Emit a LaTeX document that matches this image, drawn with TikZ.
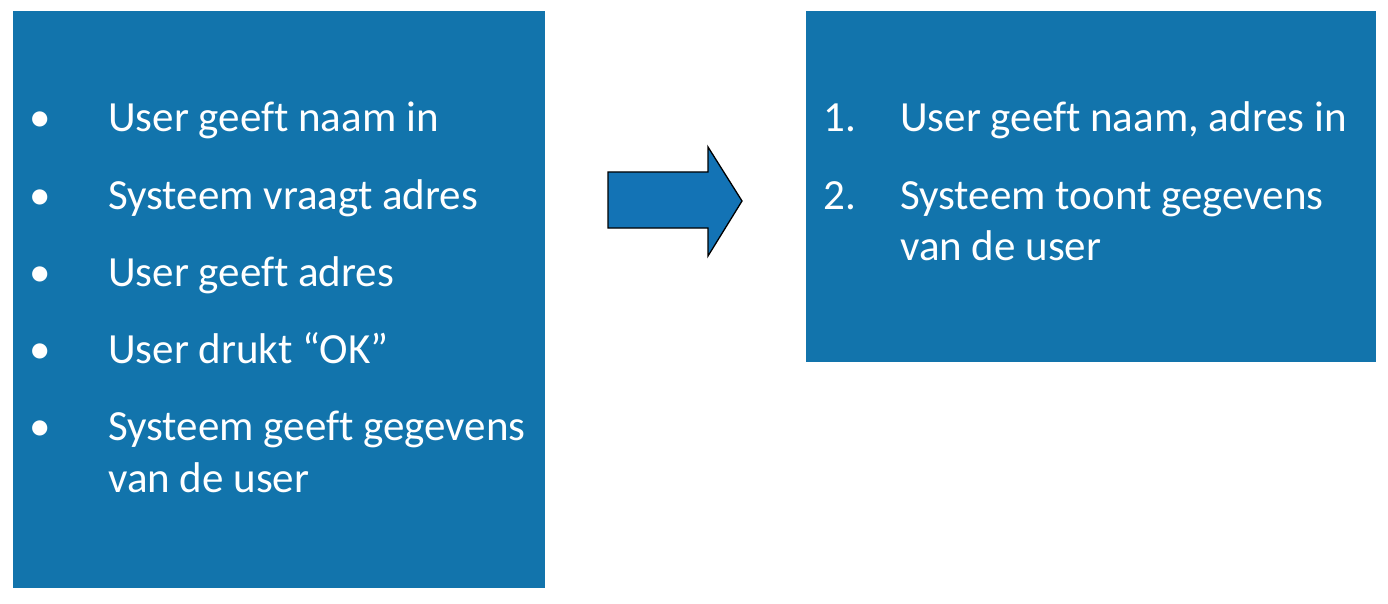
\documentclass[tikz,border=0pt]{standalone}
\usepackage{fontspec}
\setmainfont{Carlito}[Ligatures=NoCommon]
\definecolor{boxblue}{RGB}{18,116,172}
\definecolor{arrowblue}{RGB}{19,115,181}
\begin{document}
\begin{tikzpicture}[x=1pt,y=-1pt,
  panel/.style={fill=boxblue,draw=none},
  txt/.style={anchor=base west,inner sep=0pt,text=white,font=\fontsize{43}{52}\selectfont},
  bul/.style={anchor=base,inner sep=0pt,text=white,font=\fontsize{43}{52}\selectfont}]
\useasboundingbox (0,0) rectangle (1388,604);
\fill[white] (0,0) rectangle (1388,604);
\path[panel] (13,11) rectangle (545,588);
\path[panel] (806,11) rectangle (1376,362);
% arrow
\draw[fill=arrowblue,draw=black,line width=1.3pt,line join=miter]
  (608,172) -- (708,172) -- (708,147) -- (742,201) -- (708,256) -- (708,228) -- (608,228) -- cycle;
% left list
\node[bul] (b1) at (40,132) {•};
\node[txt] (l1) at (108,132) {User geeft naam in};
\node[bul] (b2) at (40,209) {•};
\node[txt] (l2) at (108,209) {Systeem vraagt adres};
\node[bul] (b3) at (40,286) {•};
\node[txt] (l3) at (108,286) {User geeft adres};
\node[bul] (b4) at (40,363) {•};
\node[txt] (l4) at (108,363) {User drukt “OK”};
\node[bul] (b5) at (40,440) {•};
\node[txt] (l5) at (108,440) {Systeem geeft gegevens};
\node[txt] (l5b) at (108,492) {van de user};
% right list
\node[txt] (n1) at (823,132) {1.};
\node[txt] (r1) at (900,132) {User geeft naam, adres in};
\node[txt] (n2) at (823,209) {2.};
\node[txt] (r2) at (900,209) {Systeem toont gegevens};
\node[txt] (r2b) at (900,260) {van de user};
\end{tikzpicture}
\end{document}
